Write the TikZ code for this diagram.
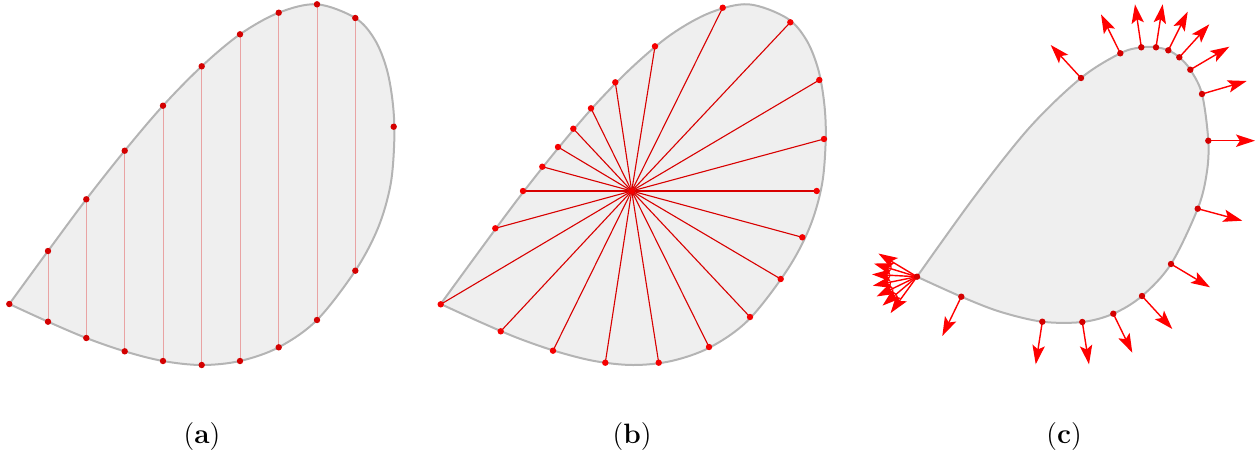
\documentclass[tikz,border=0pt]{standalone}
\usepackage{fontspec}
\usetikzlibrary{arrows.meta}
\pgfdeclarelayer{bg}
\pgfdeclarelayer{mid}
\pgfsetlayers{bg,mid,main}
\definecolor{blobfill}{HTML}{EFEFEF}
\definecolor{blobline}{HTML}{B4B4B4}
\definecolor{dotred}{HTML}{D40000}
\definecolor{dotbright}{HTML}{F50000}
\definecolor{chordred}{HTML}{E9A3A3}
\definecolor{rayred}{HTML}{D80000}
\definecolor{arrred}{HTML}{FF0000}
\tikzset{
  blob/.style={fill=blobfill, draw=blobline, line width=1pt, line join=round},
  pt/.style={circle, fill=dotred, inner sep=0pt, minimum size=3.2pt},
  ptb/.style={pt, fill=dotbright},
  chord/.style={draw=chordred, line width=0.5pt},
  ray/.style={draw=rayred, line width=0.55pt},
  normal/.style={draw=arrred, line width=0.7pt, -{Stealth[length=9.5pt,width=6.2pt,inset=2pt]}},
  lbl/.style={font=\fontsize{14}{16}\selectfont, inner sep=0pt}
}
\newcommand\blobA{\path[blob] plot[smooth, tension=0.55] coordinates {(9.3,304) (48,251) (86.3,199.3) (124.7,150.7) (163,105.7) (201.7,66.3) (240,34.3) (278.7,12.7) (317,4.3) (355.3,18) (375,40) (387,70) (393,105) (394.3,140) (390.5,185) (378,228) (355.3,270.7) (317,320) (278.7,347.3) (240,361) (201.7,365) (163,361) (124.7,351.3) (86.3,338) (48,321.7) (9.3,304)} -- cycle;}
\begin{document}
\begin{tikzpicture}[x=0.5pt, y=-0.5pt]
\useasboundingbox (0,0) rectangle (1258,456);
% ---------------- (a)
\begin{pgfonlayer}{bg}\blobA\end{pgfonlayer}
\node[pt] (a0) at (9.3,304) {};
\node[pt] (aR) at (393.7,126.7) {};
\foreach \x/\yu/\yl [count=\i] in {48/251/321.7, 86.3/199.3/338, 124.7/150.7/351.3, 163/105.7/361, 201.7/66.3/365, 240/34.3/361, 278.7/12.7/347.3, 317/4.3/320, 355.3/18/270.7}{
  \node[pt] (au\i) at (\x,\yu) {};
  \node[pt] (al\i) at (\x,\yl) {};
  \begin{pgfonlayer}{mid}\draw[chord] (au\i.center) -- (al\i.center);\end{pgfonlayer}
}
\node[lbl] (la) at (202,437) {(\textbf{a})};
% ---------------- (b)
\begin{scope}[shift={(431.4,0)}]
\begin{pgfonlayer}{bg}\blobA\end{pgfonlayer}
\end{scope}
\node[ptb] (bc) at (631.7,191) {};
\foreach \x/\y [count=\i] in {440.7/304.3, 500.7/331.3, 553/350.7, 605.3/362.7, 658.7/362.7, 709/347, 750/317, 780.7/279, 802.3/237.3, 816.7/191, 824/139, 819.3/80, 790.3/22.3, 722.7/7.7, 655/46.3, 615.3/82.3, 591/108.3, 573.3/128.7, 558/147, 542.3/166.7, 523/191, 495.3/228.3}{
  \node[ptb] (b\i) at (\x,\y) {};
  \begin{pgfonlayer}{mid}\draw[ray] (bc.center) -- (b\i.center);\end{pgfonlayer}
}
\node[lbl] (lb) at (632,437) {(\textbf{b})};
% ---------------- (c)
\begin{pgfonlayer}{bg}
\path[blob] plot[smooth, tension=0.55] coordinates {(917,276.7) (975,196) (1030,127) (1081,78) (1120.3,53.3) (1141.3,47.3) (1156,47.3) (1168.3,50.3) (1179.3,57.3) (1190.3,69.7) (1202,94) (1208.3,140.7) (1206.7,173.3) (1197.7,208.7) (1171,264) (1142,296) (1113.3,313.7) (1082.3,322) (1042.3,321.7) (1000,311.7) (961.3,296.7) (917,276.7)} -- cycle;
\end{pgfonlayer}
\node[pt] (cc) at (917,276.7) {};
\foreach \a in {126,140,154,168.5,183,197,211}{
  \begin{pgfonlayer}{mid}\draw[normal] (cc.center) -- ++(\a:45);\end{pgfonlayer}
}
\foreach \x/\y/\tx/\ty [count=\i] in {1081/78/1050.7/45, 1120.3/53.3/1101/14.3, 1141.3/47.3/1135/4.3, 1156/47.3/1162.7/4.3, 1168.3/50.3/1187.7/11.7, 1179.3/57.3/1209.3/24.3, 1190.3/69.7/1229.3/46.7, 1202/94/1246.7/81, 1208.3/140.7/1255/140.7, 1197.7/208.7/1242.3/220.7, 1171/264/1210/287.3, 1142/296/1172.3/329, 1113.3/313.7/1132.3/352.7, 1082.3/322/1089/364.3, 1042.3/321.7/1035.7/364.3, 961.3/296.7/942.3/336}{
  \node[pt] (c\i) at (\x,\y) {};
  \coordinate (t\i) at (\tx,\ty);
  \begin{pgfonlayer}{mid}\draw[normal] (c\i.center) -- (t\i);\end{pgfonlayer}
}
\node[lbl] (lc) at (1064,437) {(\textbf{c})};
\end{tikzpicture}
\end{document}
